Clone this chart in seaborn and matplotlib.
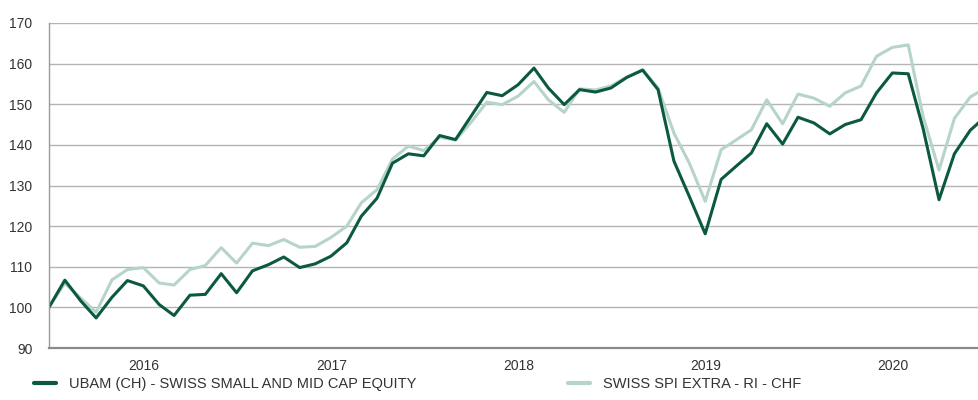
import pandas as pd
import seaborn as sns
import matplotlib.pyplot as plt
import matplotlib.dates as mdates

# monthly values (month end)
dates = pd.date_range('2015-06-30', periods=61, freq=pd.offsets.MonthEnd())

ubam = [100.0, 106.7, 101.6, 97.4, 102.5, 106.6, 105.3,
        100.7, 98.0, 103.0, 103.2, 108.3, 103.6, 109.0, 110.5, 112.4, 109.8, 110.7, 112.6,
        115.9, 122.4, 126.9, 135.5, 137.8, 137.3, 142.3, 141.3, 147.0, 152.9, 152.1, 154.8,
        158.9, 154.0, 149.9, 153.6, 153.0, 154.0, 156.6, 158.4, 153.6, 136.0, 127.3, 118.1,
        131.5, 134.6, 138.0, 145.2, 140.2, 146.8, 145.4, 142.7, 145.0, 146.2, 152.8, 157.7,
        157.5, 144.0, 126.5, 137.8, 143.6, 147.0]

spi = [100.0, 106.0, 102.3, 98.8, 106.8, 109.3, 109.8,
       106.0, 105.5, 109.3, 110.3, 114.7, 110.9, 115.8, 115.2, 116.7, 114.8, 115.0, 117.2,
       120.0, 125.7, 129.0, 136.5, 139.7, 138.6, 141.9, 141.2, 145.5, 150.5, 149.9, 152.0,
       155.6, 151.1, 148.0, 153.8, 153.5, 154.5, 156.7, 158.5, 154.0, 142.9, 135.5, 126.1,
       138.8, 141.1, 143.7, 151.1, 145.2, 152.5, 151.5, 149.5, 152.8, 154.5, 161.8, 164.0,
       164.6, 147.0, 133.8, 146.5, 151.8, 154.0]

names = ['UBAM (CH) - SWISS SMALL AND MID CAP EQUITY', 'SWISS SPI EXTRA - RI - CHF']
colors = {names[0]: '#0b5a3e', names[1]: '#b6d4c9'}

df = pd.concat([
    pd.DataFrame({'date': dates, 'value': ubam, 'series': names[0]}),
    pd.DataFrame({'date': dates, 'value': spi, 'series': names[1]}),
])

sns.set_theme(style='white')
plt.rcParams['font.family'] = ['Liberation Sans', 'DejaVu Sans']

fig = plt.figure(figsize=(9.79, 4.0), dpi=100)
ax = fig.add_axes([0.05, 0.13, 0.95, 0.8125])

# light series below the dark one
sns.lineplot(data=df, x='date', y='value', hue='series', hue_order=names[::-1],
             palette=colors, linewidth=2.2, ax=ax, legend=False)
for line in ax.get_lines():
    line.set_solid_joinstyle('round')
    line.set_solid_capstyle('round')

ax.set_ylim(90, 170)
ax.set_yticks(range(90, 171, 10))
ax.set_xlim(pd.Timestamp('2015-06-30'), pd.Timestamp('2020-06-17'))
ax.xaxis.set_major_locator(mdates.YearLocator())
ax.xaxis.set_major_formatter(mdates.DateFormatter('%Y'))
ax.set_xlabel('')
ax.set_ylabel('')

ax.yaxis.grid(True, color='#b4b4b4', linewidth=1)
ax.xaxis.grid(False)
for s in ['top', 'right']:
    ax.spines[s].set_visible(False)
ax.spines['left'].set_color('#999999')
ax.spines['left'].set_linewidth(1)
ax.spines['bottom'].set_color('#8a8a8a')
ax.spines['bottom'].set_linewidth(1.6)
ax.tick_params(axis='both', length=0, labelsize=10, labelcolor='#333333')
ax.tick_params(axis='y', pad=12)
ax.tick_params(axis='x', pad=8)

handles = [plt.Line2D([], [], color=colors[n], linewidth=3) for n in names]
fig.legend(handles, names, loc='lower left', bbox_to_anchor=(0.021, -0.01), ncol=2,
           frameon=False, fontsize=10.5, handlelength=1.5, handletextpad=0.9,
           columnspacing=10.4, labelcolor='#333333')

plt.savefig('out.png', dpi=100)
